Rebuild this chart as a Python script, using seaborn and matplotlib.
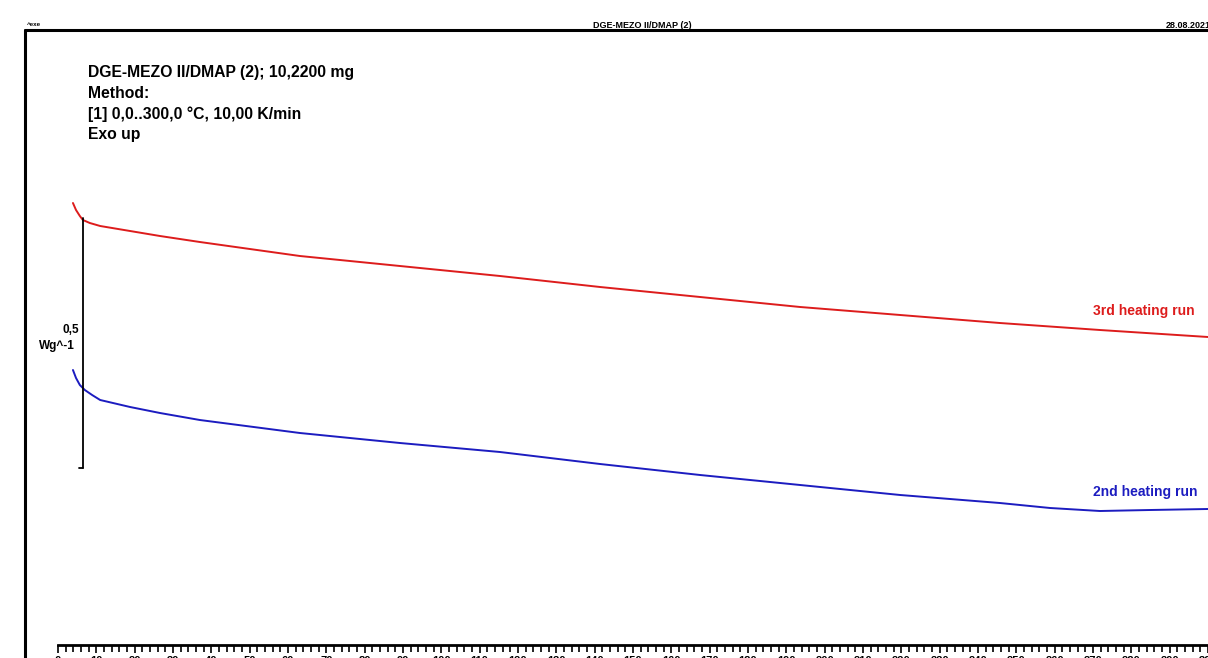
import numpy as np
import pandas as pd
import matplotlib
matplotlib.use("Agg")
import matplotlib.pyplot as plt
from matplotlib.lines import Line2D
import seaborn as sns

# Heat flow (W/g) versus temperature (°C) for two heating runs
temp_3rd = [3.9, 4.7, 5.7, 6.5, 8.3, 11.0, 18.8, 26.6, 37.0, 63.1, 89.2, 115.3,
            141.4, 167.5, 193.6, 219.7, 245.7, 271.8, 300.0]
flow_3rd = [0.530, 0.516, 0.504, 0.496, 0.490, 0.484, 0.474, 0.464, 0.452, 0.424,
            0.404, 0.384, 0.362, 0.342, 0.322, 0.306, 0.290, 0.276, 0.262]

temp_2nd = [3.9, 4.7, 5.7, 7.0, 8.9, 11.0, 18.8, 26.6, 37.0, 63.1, 89.2, 115.3,
            141.4, 167.5, 193.6, 219.7, 245.7, 258.8, 271.8, 284.9, 300.0]
flow_2nd = [0.196, 0.180, 0.166, 0.156, 0.146, 0.136, 0.122, 0.110, 0.096, 0.070,
            0.050, 0.032, 0.008, -0.014, -0.034, -0.054, -0.070, -0.080, -0.086,
            -0.084, -0.082]

run_names = ["3rd heating run", "2nd heating run"]
run_colors = ["#dd1c1c", "#1c1cc0"]

# Scale bar for the heat-flow axis
scale_temp = 6.5
scale_top = 0.5
scale_bottom = 0.0
scale_label = "0,5"
scale_unit = "Wg^-1"

x_major = np.arange(0, 301, 10)
x_minor = np.arange(0, 301, 2)

info_lines = ["DGE-MEZO II/DMAP (2); 10,2200 mg", "Method:",
              "[1] 0,0..300,0 °C, 10,00 K/min", "Exo up"]

df = pd.concat([
    pd.DataFrame({"T": temp_3rd, "q": flow_3rd, "run": run_names[0]}),
    pd.DataFrame({"T": temp_2nd, "q": flow_2nd, "run": run_names[1]}),
])

sns.set_theme(style="white")
plt.rcParams["font.family"] = ["Liberation Sans", "DejaVu Sans"]
plt.rcParams["text.color"] = "black"
plt.rcParams["xtick.color"] = "black"

W, H = 1208, 658
fig = plt.figure(figsize=(W / 100, H / 100), dpi=100)
ax = fig.add_axes([58 / W, (H - 645) / H, 1 - 58 / W, (645 - 30) / H])

sns.lineplot(data=df, x="T", y="q", hue="run", palette=run_colors,
             hue_order=run_names, linewidth=1.4, legend=False, ax=ax,
             estimator=None, sort=False)

ax.set_xlim(0, 300)
ax.set_ylim(-0.354, 0.876)
ax.set_xlabel("")
ax.set_ylabel("")
ax.set_yticks([])
for s in ["left", "right", "top"]:
    ax.spines[s].set_visible(False)
ax.spines["bottom"].set_color("black")
ax.spines["bottom"].set_linewidth(2)
ax.set_xticks(x_major)
ax.set_xticks(x_minor, minor=True)
ax.set_xticklabels([str(v) for v in x_major], fontsize=8, fontweight="bold")
ax.tick_params(axis="x", which="major", direction="out", length=6, width=1.2,
               color="black", pad=2, bottom=True)
ax.tick_params(axis="x", which="minor", direction="out", length=5, width=1.2,
               color="black", bottom=True)
ax.patch.set_alpha(0)

# Scale bar
ax.plot([scale_temp, scale_temp], [scale_bottom, scale_top], color="black", lw=1.3)
ax.plot([scale_temp - 1.0, scale_temp], [scale_bottom, scale_bottom], color="black", lw=1.3)
mid = (scale_top + scale_bottom) / 2
ax.text(scale_temp - 0.9, mid + 0.026, scale_label, ha="right", va="center",
        fontsize=8.5, fontweight="bold")
ax.text(scale_temp - 2.0, mid - 0.006, scale_unit, ha="right", va="center",
        fontsize=8.5, fontweight="bold")

# Curve labels
ax.text(270.0, 0.314, run_names[0], color=run_colors[0], fontsize=10,
        fontweight="bold", ha="left", va="center")
ax.text(270.0, -0.048, run_names[1], color=run_colors[1], fontsize=10,
        fontweight="bold", ha="left", va="center")

# Page frame
fig.add_artist(Line2D([25 / W, 1], [1 - 30 / H, 1 - 30 / H], color="black", lw=2.2))
fig.add_artist(Line2D([25 / W, 25 / W], [0, 1 - 30 / H], color="black", lw=2.2))

# Header
fig.text(27 / W, 1 - 25 / H, "^exe", fontsize=4.5, fontweight="bold", va="center")
fig.text(642 / W, 1 - 26 / H, "DGE-MEZO II/DMAP (2)", fontsize=6.5, fontweight="bold",
         ha="center", va="center")
fig.text(1166 / W, 1 - 26 / H, "28.08.2021", fontsize=6.5, fontweight="bold",
         ha="left", va="center")

# Sample information block
for i, line in enumerate(info_lines):
    fig.text(88 / W, 1 - (73 + i * 20.5) / H, line, fontsize=11.3, fontweight="bold",
             ha="left", va="center")

fig.savefig("out.png", dpi=100)
